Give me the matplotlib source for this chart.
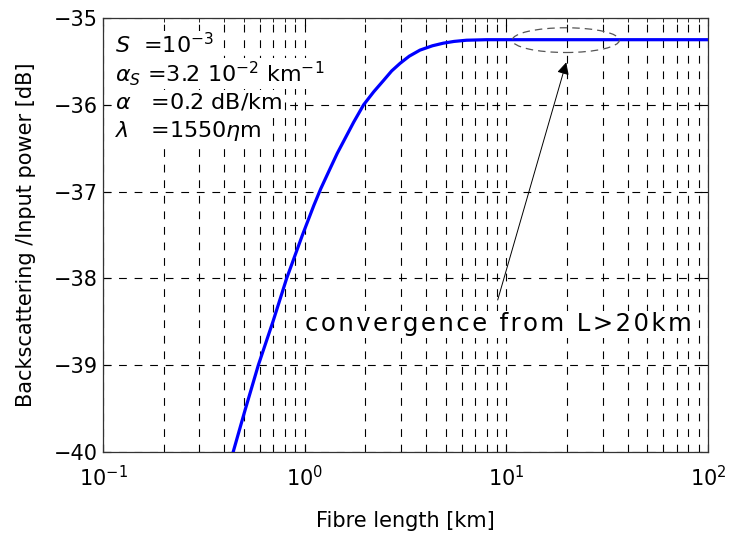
import numpy as np
import matplotlib.pyplot as plt
from matplotlib.patches import Ellipse
from matplotlib.ticker import LogLocator, FixedLocator

# values
length_km = [0.442, 0.506, 0.589, 0.698, 0.814, 0.975, 1.11, 1.2, 1.34, 1.45,
             1.56, 1.75, 1.96, 2.2, 2.46, 2.7, 2.98, 3.3, 3.73, 4.3, 4.87,
             5.5, 6.35, 7.96, 10, 20, 50, 100]
backscatter_db = [-40, -39.52, -39, -38.49, -38, -37.5, -37.16, -36.97, -36.73,
                  -36.56, -36.42, -36.2, -36.0, -35.85, -35.72, -35.61, -35.52,
                  -35.44, -35.37, -35.32, -35.29, -35.27, -35.256, -35.25,
                  -35.25, -35.25, -35.25, -35.25]

y_ticks = [-40, -39, -38, -37, -36, -35]
params = [r'$S$  =10$^{-3}$',
          r'$\alpha_S$ =3.2 10$^{-2}$ km$^{-1}$',
          r'$\alpha$   =0.2 dB/km',
          r'$\lambda$   =1550$\eta$m']
note = 'convergence from L>20km'

plt.rcParams['font.family'] = ['DejaVu Sans']
plt.rcParams['mathtext.fontset'] = 'dejavusans'

fig = plt.figure(figsize=(7.29, 5.33), dpi=100)
ax = fig.add_axes([103/729, 1 - 452/533, 605/729, 434/533])

ax.plot(length_km, backscatter_db, color='#0000ff', lw=2.3, zorder=3,
        solid_joinstyle='round')

ax.set_xscale('log')
ax.set_xlim(0.1, 100)
ax.set_ylim(-40, -35)
ax.yaxis.set_major_locator(FixedLocator(y_ticks))
ax.set_yticklabels(['\u2212%d' % abs(v) for v in y_ticks])
ax.xaxis.set_major_locator(LogLocator(base=10, numticks=10))
ax.xaxis.set_minor_locator(LogLocator(base=10, subs=np.arange(2, 10), numticks=20))

dash = (0, (7, 7))
ax.grid(True, which='major', axis='both', color='black', lw=0.8, ls=dash)
ax.grid(True, which='minor', axis='x', color='black', lw=0.8, ls=dash)

ax.tick_params(which='both', direction='in', top=True, right=True, labelsize=15)
ax.tick_params(axis='x', which='major', pad=9)
ax.tick_params(which='major', length=6)
ax.tick_params(which='minor', length=3)
for s in ax.spines.values():
    s.set_linewidth(0.9)
    s.set_color('#333333')

ax.set_xlabel('Fibre length [km]', fontsize=15, labelpad=15)
ax.set_ylabel('Backscattering /Input power [dB]', fontsize=15, labelpad=13)

for i, t in enumerate(params):
    ax.text(0.02, 0.938 - i * 0.066, t, transform=ax.transAxes, fontsize=16,
            va='center', ha='left',
            bbox=dict(facecolor='white', edgecolor='none', pad=1))

ax.add_patch(Ellipse((0.765, 0.949), 0.177, 0.057, transform=ax.transAxes,
                     fill=False, edgecolor='#555555', lw=0.9, ls=(0, (6, 4)),
                     zorder=4))
ax.annotate('', xy=(20, -35.48), xytext=(8.98, -38.28),
            arrowprops=dict(arrowstyle='-|>', color='black', lw=0.7,
                            mutation_scale=18))
ax.text(1.0, -38.53, '\u200a'.join(note), fontsize=17.6, va='center', ha='left',
        bbox=dict(facecolor='white', edgecolor='none', pad=1))

fig.savefig('out.png', dpi=100)
